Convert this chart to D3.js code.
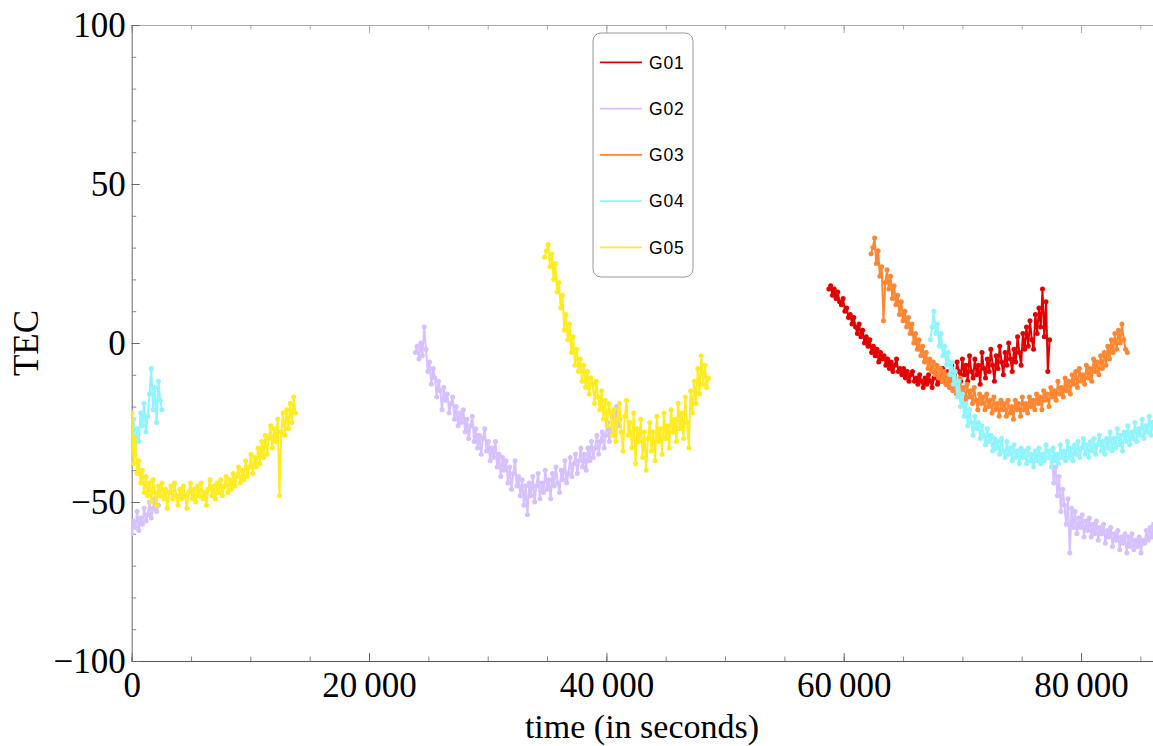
<!DOCTYPE html>
<html><head><meta charset="utf-8">
<script src="https://cdn.jsdelivr.net/npm/d3@7"></script>
<style>
body{margin:0;background:#fff;}
svg{display:block;}
</style></head>
<body>
<svg id="chart" width="1153" height="746"></svg>
<script>
// ---- data (time in seconds, TEC values); each segment sampled every `step` seconds from its start
const seriesNames = ["G01","G02","G03","G04","G05"];
const seriesColors = ["#e30000","#d6c0ff","#ff8632","#8ff4fb","#ffeb22"];
const xTickValues = [0,20000,40000,60000,80000];
const yTickValues = [-100,-50,0,50,100];
const step = 150;

const g01Start = 58750;
const g01Values = [17,18,15,17,14,16,13,12,14,10,11,8,9,6,8,5,3,6,2,4,0,2,-1,1,-3,-1,-4,-2,-6,-3,-5,-4,-7,-5,-8,-6,-9,-7,-5,-9,-8,-10,-8,-11,-9,-12,-10,-9,-12,-11,-13,-10,-12,-14,-11,-13,-10,-12,-14,-11,-9,-13,-10,-12,-8,-11,-13,-9,-11,-7,-10,-12,-6,-9,-12,-5,-10,-7,-12,-4,-9,-11,-5,-10,-7,-13,-3,-8,-11,-5,-9,-2,-7,-12,-4,-8,-1,-6,-10,-3,-7,0,-5,-9,-2,-6,2,-3,-7,3,-2,5,-1,7,1,-2,9,3,11,5,17,2,13,-9,1];

const g02aStart = 0;
const g02aValues = [-60,-56,-58,-53,-59,-55,-57,-52,-56,-54,-50,-55,-52,-49,-53,-51];
const g02bStart = 23900;
const g02bValues = [-3,-1,-5,0,-4,5,-2,-9,-6,-13,-8,-11,-17,-12,-15,-21,-14,-18,-16,-22,-19,-17,-24,-20,-26,-22,-25,-21,-28,-24,-30,-26,-23,-31,-27,-33,-29,-35,-30,-27,-34,-31,-37,-33,-36,-31,-39,-35,-42,-36,-40,-37,-44,-39,-46,-41,-37,-45,-42,-48,-43,-51,-45,-54,-44,-48,-42,-50,-45,-41,-49,-44,-47,-40,-46,-43,-49,-41,-45,-39,-44,-47,-40,-43,-37,-44,-41,-36,-42,-38,-35,-41,-37,-33,-39,-35,-40,-33,-37,-31,-36,-33,-29,-35,-31,-28,-33,-29,-25,-31,-27,-23,-29,-20,-26,-24];
const g02cStart = 77550;
const g02cValues = [-36,-44,-39,-48,-42,-53,-46,-51,-57,-49,-66,-52,-58,-53,-60,-55,-58,-54,-61,-56,-59,-55,-61,-57,-60,-56,-62,-58,-60,-57,-63,-59,-61,-58,-64,-60,-62,-59,-65,-61,-63,-60,-66,-61,-64,-60,-65,-62,-64,-61,-66,-62,-63,-59,-62,-58,-61,-57,-60,-56];

const g03Start = 62300;
const g03Values = [28,30,33,25,29,21,24,7,19,23,17,21,14,18,12,15,9,13,7,10,5,8,3,6,0,3,-2,1,-4,-1,-6,-3,-8,-5,-9,-6,-10,-7,-11,-8,-12,-9,-13,-10,-14,-11,-15,-12,-16,-13,-11,-16,-14,-18,-13,-17,-15,-19,-14,-18,-21,-16,-19,-17,-21,-16,-20,-18,-22,-17,-21,-19,-23,-18,-21,-19,-23,-18,-22,-20,-24,-18,-21,-19,-23,-17,-21,-19,-22,-17,-20,-18,-21,-16,-19,-17,-21,-15,-18,-16,-20,-14,-17,-15,-18,-12,-16,-14,-17,-11,-15,-12,-16,-10,-13,-9,-14,-8,-12,-10,-13,-7,-11,-8,-12,-5,-9,-6,-10,-4,-8,-3,-7,-1,-5,1,-3,3,-2,4,0,6,1,-2,-3];

const g04aStart = 0;
const g04aValues = [-29,-24,-35,-27,-31,-22,-26,-19,-28,-23,-16,-8,-21,-14,-25,-12,-18,-21];
const g04bStart = 67300;
const g04bValues = [1,5,10,3,6,-1,3,-4,-1,-7,-3,-10,-6,-13,-9,-17,-12,-20,-16,-23,-19,-26,-21,-25,-29,-23,-27,-25,-30,-26,-29,-32,-27,-31,-29,-34,-30,-33,-31,-35,-30,-34,-36,-31,-35,-33,-37,-32,-36,-34,-38,-33,-36,-34,-38,-33,-37,-35,-39,-34,-37,-33,-38,-35,-37,-32,-36,-34,-39,-33,-37,-35,-38,-32,-36,-34,-37,-31,-36,-33,-37,-32,-35,-31,-36,-33,-30,-35,-32,-36,-31,-34,-30,-35,-32,-29,-34,-31,-35,-30,-33,-28,-34,-30,-33,-27,-32,-29,-34,-28,-31,-26,-32,-28,-30,-25,-31,-27,-29,-24,-30,-26,-28,-23,-29,-25,-27,-23,-26];

const g05aStart = 0;
const g05aValues = [-22,-38,-30,-41,-37,-44,-40,-47,-42,-48,-44,-50,-43,-47,-51,-45,-48,-44,-49,-46,-52,-47,-45,-49,-44,-48,-51,-46,-49,-45,-48,-52,-47,-44,-49,-46,-50,-45,-48,-44,-49,-47,-51,-46,-43,-48,-45,-49,-44,-47,-43,-48,-45,-42,-47,-43,-46,-41,-45,-42,-39,-44,-40,-43,-37,-42,-39,-35,-41,-36,-39,-33,-38,-31,-36,-29,-35,-30,-26,-33,-27,-31,-24,-48,-28,-22,-29,-21,-27,-19,-25,-17,-22];
const g05bStart = 34800;
const g05bValues = [27,29,31,24,28,20,25,16,19,11,15,4,9,1,6,-3,2,-7,-2,-9,-5,-12,-7,-14,-9,-16,-11,-13,-19,-12,-17,-21,-15,-24,-18,-26,-19,-22,-29,-21,-31,-24,-19,-28,-34,-23,-18,-29,-25,-33,-22,-38,-27,-31,-24,-36,-28,-40,-30,-25,-34,-28,-37,-23,-31,-27,-35,-22,-30,-26,-33,-21,-28,-24,-31,-19,-27,-22,-30,-17,-25,-33,-15,-22,-12,-19,-8,-16,-4,-13,-7,-14,-11];

function seg(start, values){ return values.map((v,i)=>({t:start+i*step, v})); }
const seriesList = [
  {name:"G01", segments:[seg(g01Start,g01Values)]},
  {name:"G02", segments:[seg(g02aStart,g02aValues), seg(g02bStart,g02bValues), seg(g02cStart,g02cValues)]},
  {name:"G03", segments:[seg(g03Start,g03Values)]},
  {name:"G04", segments:[seg(g04aStart,g04aValues), seg(g04bStart,g04bValues)]},
  {name:"G05", segments:[seg(g05aStart,g05aValues), seg(g05bStart,g05bValues)]}
];

(function(){
const svg = d3.select("#chart");
const pL = 131.7, pR = 1157, pT = 25, pB = 661;
const x = d3.scaleLinear().domain([0,86400]).range([pL,pR]);
const y = d3.scaleLinear().domain([-100,100]).range([pB,pT]);
const fmt = d => d===0 ? "0" : d3.format(",")(d).replace(",", "\u2009");
const serif = "Liberation Serif, Times New Roman, serif";

svg.append("defs").append("clipPath").attr("id","clip")
  .append("rect").attr("x",pL).attr("y",pT).attr("width",pR-pL).attr("height",pB-pT);

const minorX = d3.range(0,86401,5000);
const minorY = d3.range(-100,101,10);

// top frame
const topAxis = svg.append("g").attr("transform",`translate(0,${pT})`)
  .call(d3.axisTop(x).tickValues(minorX).tickSize(-4.5).tickFormat(""));
topAxis.selectAll("line,path").attr("stroke","#aaa");
const topMajor = svg.append("g").attr("transform",`translate(0,${pT})`)
  .call(d3.axisTop(x).tickValues(xTickValues).tickSize(-8).tickFormat(""));
topMajor.select(".domain").remove();
topMajor.selectAll("line").attr("stroke","#aaa");

// bottom axis
const bMinor = svg.append("g").attr("transform",`translate(0,${pB})`)
  .call(d3.axisBottom(x).tickValues(minorX).tickSize(-4.5).tickFormat(""));
bMinor.selectAll("line").attr("stroke","#888");
bMinor.select(".domain").attr("stroke","#555").attr("stroke-width",1.2);
const bMajor = svg.append("g").attr("transform",`translate(0,${pB})`)
  .call(d3.axisBottom(x).tickValues(xTickValues).tickSize(-8).tickPadding(11).tickFormat(fmt));
bMajor.select(".domain").remove();
bMajor.selectAll("line").attr("stroke","#666");
bMajor.selectAll("text").attr("font-size",35).attr("fill","#000").attr("font-family",serif);

// left axis
const lMinor = svg.append("g").attr("transform",`translate(${pL},0)`)
  .call(d3.axisLeft(y).tickValues(minorY).tickSize(-4.5).tickFormat(""));
lMinor.selectAll("line").attr("stroke","#888");
lMinor.select(".domain").attr("stroke","#777").attr("stroke-width",1.1);
const lMajor = svg.append("g").attr("transform",`translate(${pL},0)`)
  .call(d3.axisLeft(y).tickValues(yTickValues).tickSize(-8).tickPadding(6).tickFormat(d=> d<0 ? "\u2212"+Math.abs(d) : String(d)));
lMajor.select(".domain").remove();
lMajor.selectAll("line").attr("stroke","#666");
lMajor.selectAll("text").attr("font-size",35).attr("fill","#000").attr("font-family",serif);

// axis titles
svg.append("text").attr("x",642).attr("y",738)
  .attr("text-anchor","middle").attr("font-family",serif).attr("font-size",34)
  .text("time (in seconds)");
svg.append("text").attr("transform",`translate(38,${(pT+pB)/2}) rotate(-90)`)
  .attr("text-anchor","middle").attr("font-family",serif).attr("font-size",35)
  .text("TEC");

// data
const plot = svg.append("g").attr("clip-path","url(#clip)");
const line = d3.line().x(d=>x(d.t)).y(d=>y(d.v));
seriesList.forEach((s,i)=>{
  const g = plot.append("g");
  s.segments.forEach(sg=>{
    g.append("path").datum(sg).attr("d",line).attr("fill","none")
      .attr("stroke",seriesColors[i]).attr("stroke-width",2).attr("stroke-linejoin","round");
    g.selectAll(null).data(sg).enter().append("circle")
      .attr("cx",d=>x(d.t)).attr("cy",d=>y(d.v)).attr("r",2.5).attr("fill",seriesColors[i]);
  });
});

// legend
const lg = svg.append("g");
lg.append("rect").attr("x",593).attr("y",33).attr("width",100).attr("height",244)
  .attr("rx",8).attr("fill","#fff").attr("stroke","#999").attr("stroke-width",1);
seriesNames.forEach((n,i)=>{
  const yy = 62.3 + i*46.25;
  lg.append("line").attr("x1",600).attr("x2",642).attr("y1",yy).attr("y2",yy)
    .attr("stroke",seriesColors[i]).attr("stroke-width",1.8);
  lg.append("text").attr("x",649).attr("y",yy+6.3).attr("font-family","Liberation Sans, Arial, sans-serif")
    .attr("font-size",17.5).attr("letter-spacing",0.8).attr("fill","#000").text(n);
});
})();
</script>
</body></html>
